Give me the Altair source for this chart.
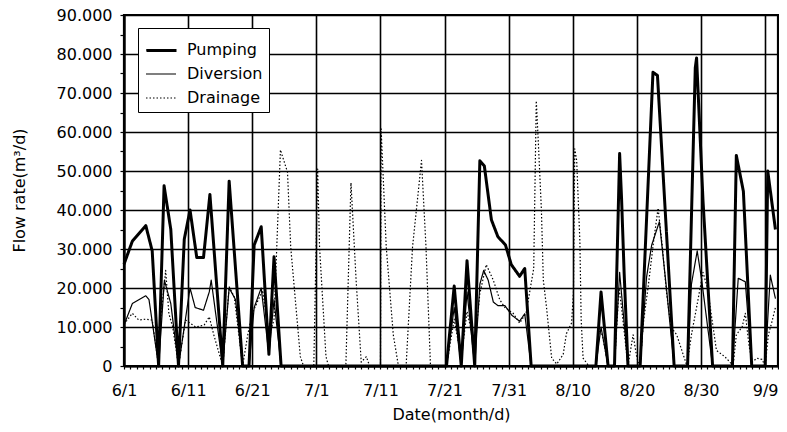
import altair as alt
import pandas as pd

SERIES = ["Pumping", "Diversion", "Drainage"]

# x = days after 6/1, y = flow rate (m3/d)
pump_day = [0, 1.3, 3.4, 4.4, 5.4, 6.25, 7.3, 8.5, 9.4, 10.3, 11.35, 12.4, 13.4, 15.4, 16.4, 18.5,
            19.5, 20.3, 21.4, 22.6, 23.4, 24.5, 50.3, 51.5, 52.6, 53.5, 54.7, 55.5, 56.2, 57.3,
            58.3, 59.5, 60.4, 61.7, 62.5, 63.5, 73.6, 74.4, 75.5, 76.5, 77.3, 77.6, 78.0, 78.6,
            80.5, 82.5, 83.2, 85.8, 87.9, 89.1, 89.3, 90.3, 91.8, 94.9, 95.5, 96.6, 97.9, 100.0,
            100.4, 101.6]
pump_val = [26100, 32000, 36000, 29500, 0, 46200, 35000, 0, 32500, 40000, 27800, 27800, 44000, 0, 47400, 0,
            0, 31000, 35700, 3000, 28000, 0, 0, 20500, 0, 27000, 0, 52600, 51300, 37500,
            33200, 31000, 26000, 23000, 25000, 0, 0, 19000, 0, 0, 54500, 43000, 24000, 0,
            0, 75300, 74500, 0, 0, 76500, 79000, 42500, 0, 0, 54000, 44800, 0, 0,
            50000, 35000]

div_day = [0, 1.3, 3.4, 3.9, 5.4, 6.3, 7.3, 8.5, 10.3, 11.1, 12.4, 13.3, 13.6, 15.4, 16.4, 17.4,
           18.5, 19.5, 20.3, 21.4, 22.6, 23.4, 24.5, 50.3, 51.5, 52.6, 53.5, 54.7, 55.5, 56.1,
           56.8, 57.6, 58.3, 59.4, 60.5, 61.7, 62.5, 63.5, 73.6, 74.4, 75.5, 76.5, 77.3, 78.6,
           80.5, 81.5, 82.3, 83.5, 84.6, 85.8, 87.9, 88.5, 89.4, 90.1, 91.8, 94.9, 95.3, 95.8,
           96.9, 97.9, 100.0, 100.4, 100.8, 101.6]
div_val = [10500, 16000, 18000, 17000, 0, 22000, 16000, 0, 20000, 15000, 14300, 19000, 22000, 0, 20000, 17000,
           0, 0, 15000, 20000, 3000, 17000, 0, 0, 15000, 0, 19000, 0, 21000, 24500,
           22000, 16400, 15500, 15500, 13000, 11500, 13400, 0, 0, 10000, 0, 0, 24000, 0,
           0, 22800, 31000, 37000, 20000, 0, 0, 21000, 29500, 22000, 0, 0, 10000, 22500,
           21600, 0, 0, 12000, 23300, 17300]

drn_day = [0, 1.3, 2.3, 3.4, 4.4, 5.4, 5.6, 6.5, 7.0, 7.6, 8.5, 9.6, 11.2, 12.5, 13.3, 14.0, 15.4,
           16.4, 17.2, 18.5, 19.3, 20.0, 21.6, 22.7, 23.4, 24.4, 25.5, 26.0, 27.5, 28.0, 29.6,
           30.2, 30.5, 31.5, 31.9, 34.6, 35.4, 36.2, 37.0, 37.8, 38.3, 40.0, 40.1, 40.9, 42.0,
           42.8, 44.0, 45.0, 46.4, 47.1, 47.8, 50.3, 51.5, 52.6, 53.5, 54.7, 55.5, 56.5, 57.6,
           58.6, 59.4, 60.7, 61.7, 62.7, 63.9, 64.3, 64.6, 65.1, 65.4, 65.9, 66.7, 67.5, 68.5,
           69.0, 69.8, 70.1, 70.3, 70.6, 71.1, 71.3, 71.6, 72.5, 73.6, 74.1, 74.6, 75.5, 76.5,
           77.2, 77.6, 78.6, 79.4, 80.0, 80.5, 81.0, 81.8, 82.6, 83.3, 84.0, 84.6, 85.3, 86.2,
           87.0, 87.8, 88.5, 89.3, 90.3, 91.0, 91.7, 92.4, 93.7, 94.5, 95.0, 95.5, 96.4, 96.9,
           97.5, 98.0, 98.7, 99.5, 100.0, 100.5, 101.0, 101.6]
drn_val = [10700, 13500, 11800, 12000, 11800, 0, 10000, 24500, 13400, 10000, 0, 11800, 10000, 10500, 12600, 8000, 0,
           20300, 17700, 0, 8000, 13500, 19400, 7500, 12000, 55400, 49700, 30500, 2400, 0, 0,
           50500, 30500, 2400, 0, 0, 47000, 22000, 1000, 2400, 0, 0, 60800, 30500, 8000,
           0, 0, 30500, 52700, 30500, 0, 0, 12000, 2000, 14000, 5000, 18600, 26000, 22000,
           17000, 15000, 13500, 11000, 13500, 25000, 68000, 58000, 40000, 22000, 15000, 2000, 500, 3000,
           8300, 11000, 19000, 55700, 52700, 32000, 12000, 2000, 0, 0, 9000, 8000, 0, 0,
           20000, 15000, 0, 8000, 2000, 0, 11000, 21000, 32000, 40500, 30000, 19000, 10000, 8000,
           4000, 0, 8000, 15000, 24000, 20000, 12000, 4000, 2400, 1000, 0, 8000, 10000, 13500,
           5000, 1000, 2000, 1700, 0, 8000, 11000, 15000]

X_TICKS = list(range(0, 103))          # one tick per day
Y_TICKS = list(range(0, 90001, 5000))  # minor ticks every 5,000

rows = []
for name, days, vals in [("Pumping", pump_day, pump_val),
                         ("Diversion", div_day, div_val),
                         ("Drainage", drn_day, drn_val)]:
    for d, v in zip(days, vals):
        rows.append({"series": name, "day": d, "flow": v})
df = pd.DataFrame(rows)

FONT = "DejaVu Sans"

x = alt.X(
    "day:Q",
    scale=alt.Scale(domain=[0, 102], nice=False, zero=False),
    axis=alt.Axis(
        values=X_TICKS,
        labelExpr="datum.value % 10 === 0 ? timeFormat(datetime(2000, 5, 1 + datum.value), '%-m/%-d') : ''",
        labelOverlap=False,
        labelFlush=False,
        labelPadding=13,
        tickSize=3,
        tickColor="black",
        tickWidth=1.2,
        gridOpacity={"condition": {"test": "datum.value % 10 === 0", "value": 1}, "value": 0},
        title="Date(month/d)",
        titleY=40,
    ),
)

y = alt.Y(
    "flow:Q",
    scale=alt.Scale(domain=[0, 90000], nice=False),
    axis=alt.Axis(
        values=Y_TICKS,
        labelExpr="datum.value % 10000 === 0 ? replace(format(datum.value, ','), ',', '.') : ''",
        labelOverlap=False,
        labelFlush=False,
        labelPadding=8,
        tickSize=4,
        tickColor="black",
        tickWidth=1.2,
        gridOpacity={"condition": {"test": "datum.value % 10000 === 0", "value": 1}, "value": 0},
        title="Flow rate(m³/d)",
        titleX=-97,
        titleY=175,
    ),
)

common_legend = dict(
    title=None,
    orient="none",
    legendX=14,
    legendY=13,
    symbolType="stroke",
    symbolSize=900,
    symbolStrokeColor="black",
    symbolOffset=1,
    rowPadding=-11.5,
    labelOffset=10,
    padding=6,
    labelFont=FONT,
    labelFontSize=16,
    labelColor="black",
)

# main legend (all three entries, thin symbols, framed box)
legend_all = alt.Legend(
    symbolStrokeWidth=1.2,
    strokeColor="black",
    fillColor="white",
    zindex=0,
    **common_legend,
)
# thick symbol for the Pumping entry, drawn on top of the first row
legend_pump = alt.Legend(
    symbolStrokeWidth=3,
    labelExpr="''",
    zindex=1,
    **common_legend,
)

thin = alt.Chart(df).transform_filter(
    alt.datum.series != "Pumping"
).mark_line(color="black", strokeWidth=1.2, strokeJoin="round").encode(
    x=x,
    y=y,
    detail="series:N",
    strokeDash=alt.StrokeDash(
        "series:N",
        scale=alt.Scale(domain=SERIES, range=[[1, 0], [1, 0], [1.5, 2]]),
        legend=legend_all,
    ),
)

thick = alt.Chart(df).transform_filter(
    alt.datum.series == "Pumping"
).mark_line(color="black", strokeWidth=3, strokeJoin="round").encode(
    x=x,
    y=y,
    strokeDash=alt.StrokeDash(
        "series:N",
        scale=alt.Scale(domain=["Pumping"], range=[[1, 0]]),
        legend=legend_pump,
    ),
)

chart = alt.layer(thin, thick).resolve_scale(
    strokeDash="independent"
).resolve_legend(
    strokeDash="independent"
).properties(
    width=654,
    height=351,
    autosize=alt.AutoSizeParams(type="none"),
    padding={"left": 116, "top": 7, "right": 1, "bottom": 58},
).configure_view(
    stroke="black", strokeWidth=2.2
).configure_axis(
    labelFont=FONT,
    labelFontSize=16,
    labelColor="black",
    titleFont=FONT,
    titleFontSize=16,
    titleFontWeight="normal",
    titleColor="black",
    gridColor="black",
    gridWidth=1.6,
    domainColor="black",
    domainWidth=2.2,
)

chart.save("out.html", embed_options={"renderer": "svg", "actions": False})
